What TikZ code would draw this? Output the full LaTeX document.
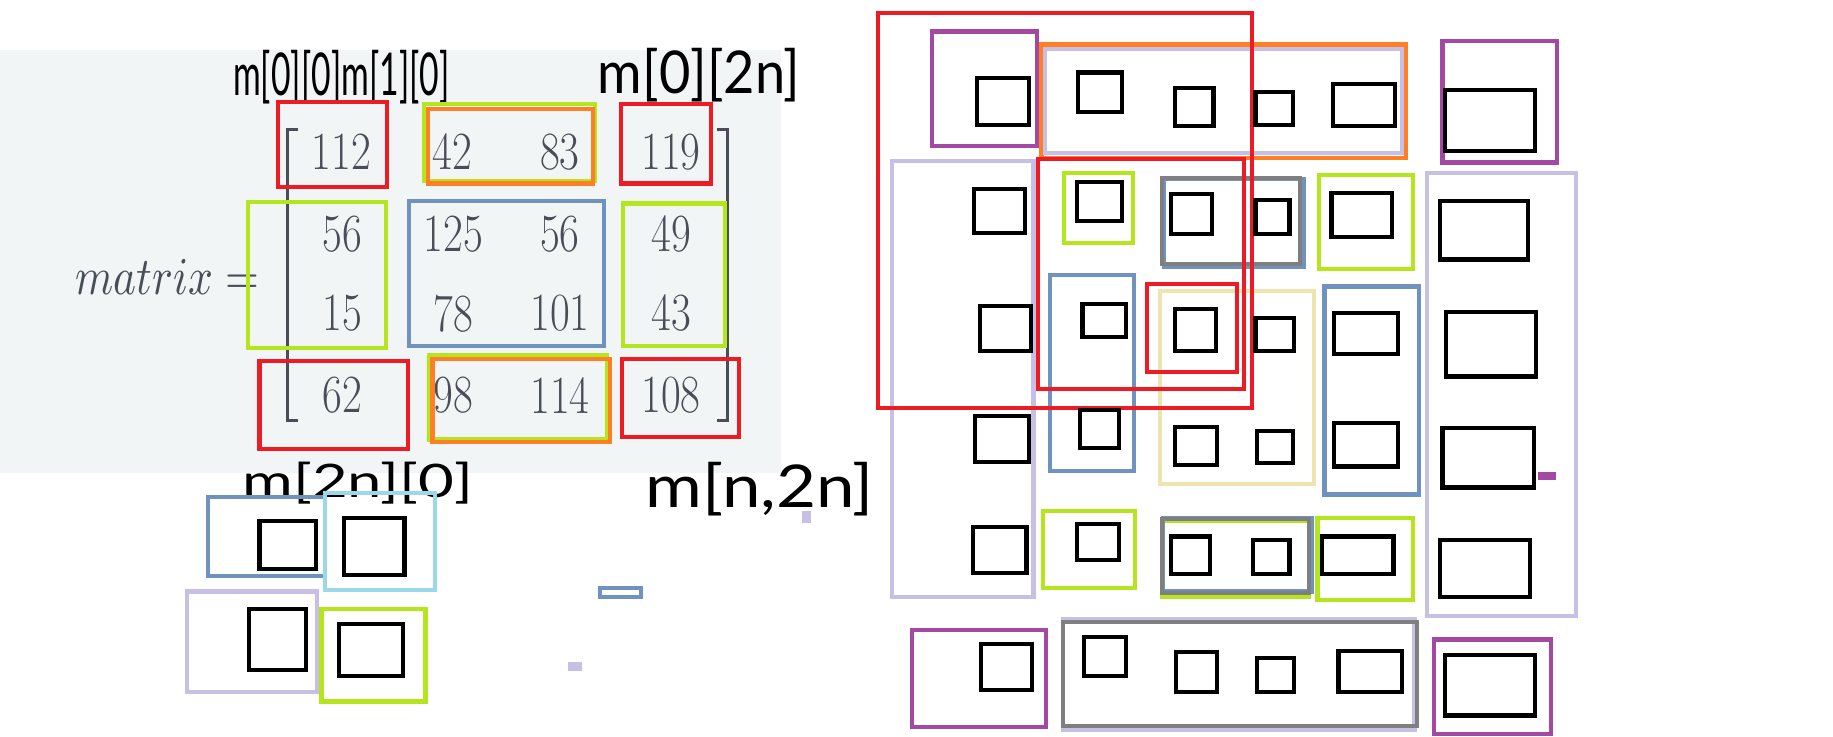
\documentclass[tikz,border=0pt]{standalone}
\usepackage{fontspec}
\newfontfamily\hand{Lato}
\definecolor{cred}{HTML}{ED1C24}
\definecolor{corange}{HTML}{FF7F27}
\definecolor{cgreen}{HTML}{B5E61D}
\definecolor{cblue}{HTML}{7092BE}
\definecolor{ccyan}{HTML}{99D9EA}
\definecolor{clav}{HTML}{C8BFE7}
\definecolor{cpurple}{HTML}{A349A4}
\definecolor{cgray}{HTML}{7F7F7F}
\definecolor{cbeige}{HTML}{EFE4B0}
\definecolor{panel}{HTML}{F2F5F6}
\definecolor{mtext}{HTML}{474E58}
\newcommand{\bx}[5]{\draw[cb,#1] (#2,#3) rectangle (#4,#5);}
\newcommand{\sqb}[4]{\draw[sqbox] (#1,#2) rectangle (#3,#4);}
\newcommand{\hwtext}[3]{\resizebox*{#1pt}{#2pt}{\hand #3}}
\begin{document}
\begin{tikzpicture}[x=1pt,y=-1pt,
  cb/.style={line width=3.6pt},
  sqbox/.style={draw=black,line width=3.6pt},
  num/.style={inner sep=0pt,text=mtext,font=\fontsize{46}{50}\selectfont},
  hw/.style={inner sep=0pt,text=black},
  brk/.style={draw=mtext,line width=2.6pt}]
\useasboundingbox (0,0) rectangle (1568,630);
\fill[panel] (0,43) rectangle (668,405);
% matrix
\node[inner sep=0pt,text=mtext] (mlabel) at (143,237) {\resizebox*{157pt}{30pt}{$matrix=$}};
\draw[brk] (255,111) -- (246,111) -- (246,360) -- (255,360);
\draw[brk] (613,111) -- (622,111) -- (622,360) -- (613,360);
\node[num] (a11) at (292,130) {\scalebox{0.8}[1]{112}};
\node[num] (a12) at (387,130) {\scalebox{0.8}[1]{42}};
\node[num] (a13) at (479,130) {\scalebox{0.8}[1]{83}};
\node[num] (a14) at (574,130) {\scalebox{0.8}[1]{119}};
\node[num] (a21) at (293,200) {\scalebox{0.8}[1]{56}};
\node[num] (a22) at (388,200) {\scalebox{0.8}[1]{125}};
\node[num] (a23) at (479,200) {\scalebox{0.8}[1]{56}};
\node[num] (a24) at (574,200) {\scalebox{0.8}[1]{49}};
\node[num] (a31) at (293,268) {\scalebox{0.8}[1]{15}};
\node[num] (a32) at (388,268) {\scalebox{0.8}[1]{78}};
\node[num] (a33) at (479,268) {\scalebox{0.8}[1]{101}};
\node[num] (a34) at (574,268) {\scalebox{0.8}[1]{43}};
\node[num] (a41) at (293,338) {\scalebox{0.8}[1]{62}};
\node[num] (a42) at (388,338) {\scalebox{0.8}[1]{98}};
\node[num] (a43) at (479,338) {\scalebox{0.8}[1]{114}};
\node[num] (a44) at (574,338) {\scalebox{0.8}[1]{108}};
% handwritten labels
\node[hw] (l1) at (292,66) {\hwtext{185}{46}{m[0][0]m[1][0]}};
\node[hw] (l2) at (598,64) {\hwtext{173}{46}{m[0][2n]}};
\node[hw] (l3) at (306,413) {\hwtext{197}{36}{m[2n][0]}};
\node[hw] (l4) at (650,418) {\hwtext{195}{46}{m[n,2n]}};
% boxes around matrix
\bx{cred}{238}{87}{331}{160}
\bx{cgreen}{363}{89}{509}{155}
\bx{corange}{366}{93}{507}{157}
\bx{cred}{531}{89}{608}{157}
\bx{cgreen}{212}{173}{330}{298}
\bx{cblue}{350}{172}{517}{296}
\bx{cgreen}{533}{174}{620}{296}
\bx{cred}{222}{309}{349}{384}
\bx{cgreen}{367}{304}{519}{376}
\bx{corange}{370}{307}{522}{378}
\bx{cred}{532}{307}{632}{374}
% lower-left group
\bx{cblue}{178}{425}{278}{493}
\bx{ccyan}{278}{422}{372}{505}
\bx{clav}{160}{506}{271}{592}
\bx{cgreen}{275}{521}{364}{600}
\sqb{222}{446}{270}{487}
\sqb{294}{443}{346}{492}
\sqb{213}{521}{262}{573}
\sqb{290}{534}{345}{578}
\bx{cblue}{513}{503}{548}{511}
\fill[clav] (486,566) rectangle (498,574);
\fill[clav] (686,437) rectangle (694,447);
% right group: coloured boxes
\bx{clav}{763}{138}{884}{511}
\bx{cpurple}{797}{27}{887}{125}
\bx{corange}{891}{38}{1203}{135}
\bx{clav}{894}{42}{1199}{131}
\bx{cpurple}{1234}{35}{1332}{139}
\bx{clav}{1221}{148}{1348}{527}
\bx{cgreen}{910}{148}{969}{208}
\bx{cblue}{996}{153}{1115}{228}
\bx{cgray}{994}{152}{1112}{226}
\bx{cgreen}{1128}{150}{1209}{230}
\bx{cblue}{898}{235}{970}{403}
\bx{cbeige}{992}{249}{1124}{414}
\bx{cblue}{1133}{245}{1214}{423}
\bx{cred}{888}{136}{1064}{333}
\bx{cred}{981}{243}{1058}{318}
\bx{cred}{751}{11}{1071}{349}
\fill[cpurple] (1316,404) rectangle (1331,411);
\bx{cgreen}{892}{437}{971}{503}
\bx{cgreen}{994}{446}{1120}{511}
\bx{cblue}{995}{443}{1122}{506}
\bx{cgray}{994}{444}{1120}{507}
\bx{cgreen}{1127}{443}{1209}{513}
\bx{cpurple}{780}{539}{895}{622}
\bx{clav}{909}{530}{1210}{624}
\bx{cgray}{909}{532}{1212}{621}
\bx{cpurple}{1227}{547}{1327}{628}
% right group: black squares
\sqb{836}{67}{880}{107}
\sqb{922}{62}{960}{96}
\sqb{1005}{75}{1038}{108}
\sqb{1074}{79}{1106}{107}
\sqb{1140}{72}{1193}{108}
\sqb{1236}{77}{1313}{129}
\sqb{833}{162}{877}{199}
\sqb{921}{156}{960}{189}
\sqb{1002}{166}{1037}{200}
\sqb{1074}{171}{1103}{200}
\sqb{1139}{165}{1191}{203}
\sqb{1232}{172}{1307}{222}
\sqb{838}{262}{882}{300}
\sqb{926}{260}{963}{288}
\sqb{1005}{264}{1040}{300}
\sqb{1074}{272}{1107}{300}
\sqb{1141}{268}{1196}{303}
\sqb{1237}{267}{1314}{322}
\sqb{834}{356}{880}{395}
\sqb{924}{351}{957}{383}
\sqb{1005}{365}{1041}{398}
\sqb{1075}{369}{1106}{396}
\sqb{1141}{362}{1196}{399}
\sqb{1234}{366}{1312}{417}
\sqb{832}{451}{878}{490}
\sqb{921}{448}{957}{479}
\sqb{1002}{459}{1035}{491}
\sqb{1072}{462}{1103}{491}
\sqb{1131}{459}{1192}{491}
\sqb{1232}{462}{1309}{511}
\sqb{839}{551}{883}{590}
\sqb{927}{545}{963}{578}
\sqb{1006}{558}{1041}{592}
\sqb{1075}{563}{1107}{592}
\sqb{1145}{557}{1199}{592}
\sqb{1236}{560}{1313}{612}
\end{tikzpicture}
\end{document}
